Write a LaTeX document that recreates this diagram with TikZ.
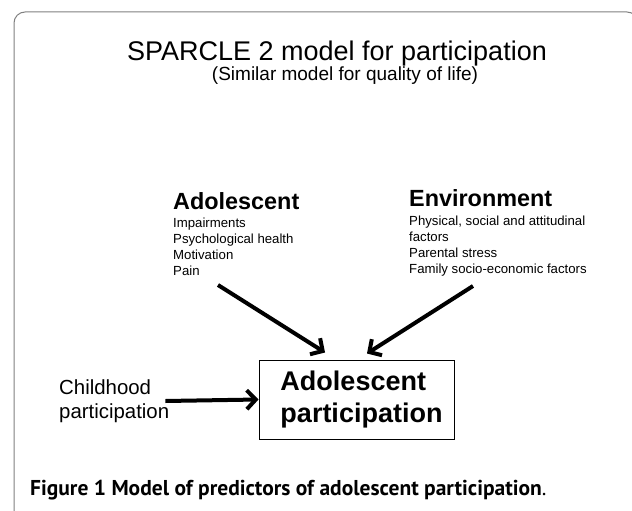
\documentclass[tikz,border=0pt]{standalone}
\usepackage{fontspec}
\setmainfont{Liberation Sans}
\newfontfamily\captionfont{PT Sans}
\usetikzlibrary{arrows.meta}
\tikzset{>={Straight Barb[length=9pt,width=19pt]}}

\begin{document}
\begin{tikzpicture}[x=1pt,y=-1pt,
  head/.style={font=\fontsize{23.4}{28}\selectfont\bfseries,anchor=base west,inner sep=0},
  item/.style={font=\fontsize{13.2}{16}\selectfont,anchor=base west,inner sep=0},
  bigarrow/.style={line width=4,->}]
  \useasboundingbox (0,0) rectangle (632,511);

  % Frame
  \begin{scope}
    \clip (0,0) rectangle (632,511);
    \draw[line width=1,gray,rounded corners=11pt] (14,12) rectangle (638,540);
  \end{scope}

  % Titles
  \node[font=\fontsize{27}{32}\selectfont,anchor=base,inner sep=0] (title) at (337,60) {SPARCLE 2 model for participation};
  \node[font=\fontsize{19}{23}\selectfont,anchor=base,inner sep=0] (subtitle) at (345,81) {(Similar model for quality of life)};

  % Adolescent factors
  \node[head] (adol) at (173,209) {Adolescent};
  \foreach \txt [count=\i] in {Impairments, Psychological health, Motivation, Pain}
    \node[item] (adolItem\i) at (173,211+16*\i) {\txt};

  % Environment factors
  \node[head] (env) at (409,206) {Environment};
  \foreach \txt [count=\i] in {{Physical, social and attitudinal}, factors, Parental stress, Family socio-economic factors}
    \node[item] (envItem\i) at (409,209+16*\i) {\txt};

  % Outcome
  \node[draw,line width=1,minimum width=195,minimum height=79] (outcome) at (356.5,399.5) {};
  \node[align=left,inner sep=0,font=\fontsize{27}{32}\selectfont\bfseries] (outcomeText) at (361.5,399.5) {Adolescent\\participation};
  \node[font=\fontsize{20.4}{24}\selectfont,align=left,inner sep=0,anchor=west] (child) at (59,401) {Childhood\\participation};

  % Arrows
  \coordinate (adolTail) at (218,285);
  \coordinate (envTail) at (473,286);
  \coordinate (adolTip) at ([xshift=-31.5,yshift=7]outcome.north);
  \coordinate (envTip) at ([xshift=10.5,yshift=6]outcome.north);
  \draw[bigarrow] (adolTail) -- (adolTip);
  \draw[bigarrow] (envTail) -- (envTip);
  \draw[bigarrow] ([xshift=-4]child.east) -- (outcome.west);

  % Caption
  \node[font=\captionfont\fontsize{21.5}{25}\selectfont,anchor=base west,inner sep=0] (caption) at (30,495)
    {\textbf{Figure 1 Model of predictors of adolescent participation}.};
\end{tikzpicture}
\end{document}
